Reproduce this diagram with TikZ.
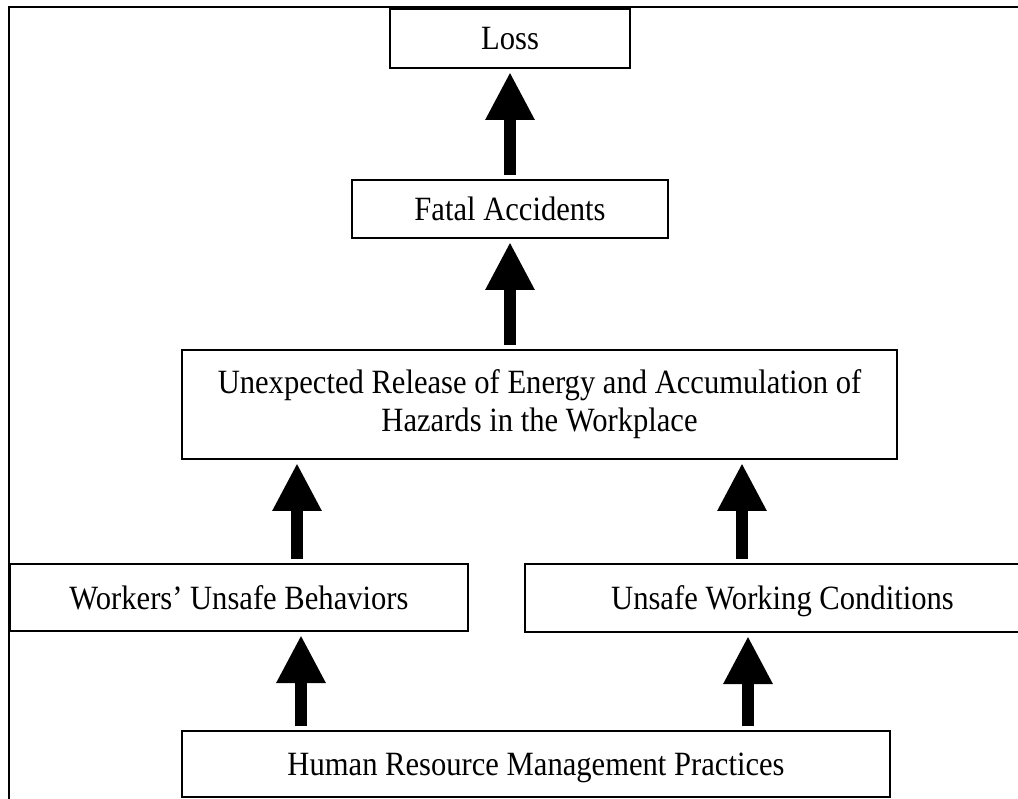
\documentclass[tikz,border=0pt]{standalone}
\usepackage{fontspec}
\setmainfont{Liberation Serif}
\usetikzlibrary{arrows.meta}
\newcommand\sqz[1]{\scalebox{0.9}[1]{#1}}
\tikzset{
  box/.style={draw=black, line width=2.5pt, fill=white, inner sep=0pt, outer sep=0pt,
    font=\fontsize{34}{38}\selectfont},
  oneline/.style={text height=23pt, text depth=0pt},
  bigarrow/.style={line width=12pt, -{Triangle[length=48pt,width=46pt]},
    shorten <=5pt, shorten >=4pt},
  frameline/.style={line width=2pt, line cap=rect}
}
\begin{document}
\begin{tikzpicture}[x=1pt,y=-1pt]
\clip (0,0) rectangle (1018,799);
\fill[white] (0,0) rectangle (1018,799);
\draw[frameline] (9,805) -- (9,7) -- (1025,7);

\node[box, oneline, minimum width=240pt, minimum height=59pt] (loss) at (510,38.5) {\sqz{Loss}};
\node[box, oneline, minimum width=316pt, minimum height=58pt] (fatal) at (510,209) {\sqz{Fatal Accidents}};
\node[box, minimum width=715pt, minimum height=109pt] (energy) at (539.5,404.5)
  {\sqz{\begin{tabular}{@{}c@{}}Unexpected Release of Energy and Accumulation of\\Hazards in the Workplace\end{tabular}}};
\node[box, oneline, minimum width=458pt, minimum height=67pt] (workers) at (239,597.5) {\sqz{Workers’ Unsafe Behaviors}};
\node[box, oneline, minimum width=515pt, minimum height=68pt] (conditions) at (782.5,598) {\sqz{Unsafe Working Conditions}};
\node[box, oneline, minimum width=708pt, minimum height=66pt] (hrm) at (536,764) {\sqz{Human Resource Management Practices}};

\draw[bigarrow] (fatal.north) -- (loss.south);
\draw[bigarrow] (energy.north -| fatal.north) -- (fatal.south);
\draw[bigarrow] (workers.north -| 297,0) -- (energy.south -| 297,0);
\draw[bigarrow] (conditions.north -| 742,0) -- (energy.south -| 742,0);
\draw[bigarrow] (hrm.north -| 301,0) -- (workers.south -| 301,0);
\draw[bigarrow] (hrm.north -| 748,0) -- (conditions.south -| 748,0);
\end{tikzpicture}
\end{document}
